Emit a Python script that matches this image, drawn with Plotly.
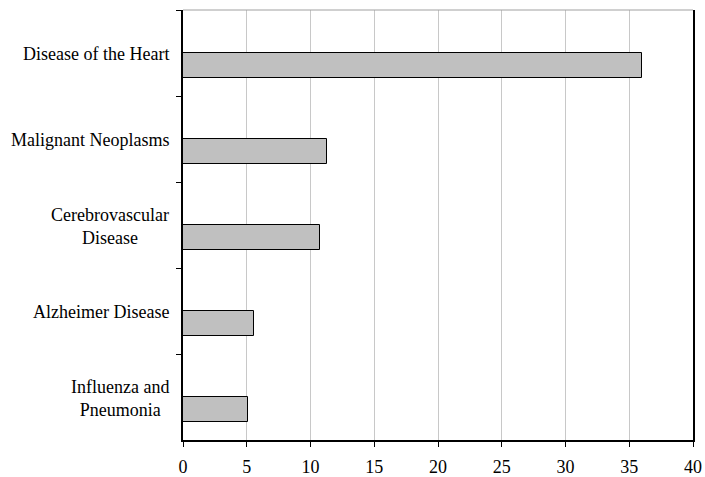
import plotly.graph_objects as go

categories = ["Disease of the Heart", "Malignant Neoplasms", "Cerebrovascular<br>Disease",
              "Alzheimer Disease", "Influenza and<br>Pneumonia"]
values = [36.0, 11.3, 10.75, 5.6, 5.1]
x_ticks = [0, 5, 10, 15, 20, 25, 30, 35, 40]

FONT = "Liberation Serif, Times New Roman, serif"
FS = 18

fig = go.Figure()
fig.add_trace(go.Bar(
    y=categories, x=values, orientation="h",
    width=0.29, offset=0,
    marker=dict(color="#c0c0c0", line=dict(color="black", width=1)),
    showlegend=False,
))

for c in categories:
    fig.add_annotation(
        x=0, xref="paper", y=c, yref="y",
        text=c, showarrow=False, xanchor="right", align="center",
        xshift=-12, yshift=-1, font=dict(family=FONT, size=FS, color="black"),
    )

fig.add_shape(type="line", xref="paper", yref="paper", x0=0, x1=1, y0=1, y1=1,
              line=dict(color="#a0a0a0", width=1))

fig.update_layout(
    width=705, height=477,
    margin=dict(l=183, r=12, t=10, b=37),
    paper_bgcolor="white", plot_bgcolor="white",
    font=dict(family=FONT, size=FS, color="black"),
    bargap=0,
    xaxis=dict(
        range=[0, 40], tickvals=x_ticks, showgrid=True, gridcolor="#c8c8c8", gridwidth=1,
        showline=True, linecolor="black", linewidth=1.5,
        ticks="outside", ticklen=5, tickcolor="black", zeroline=False,
        tickfont=dict(family=FONT, size=FS), automargin=False, ticklabelstandoff=5,
    ),
    yaxis=dict(
        type="category", categoryorder="array", categoryarray=categories,
        autorange="reversed",
        tickson="boundaries", ticks="outside", ticklen=5, tickcolor="black",
        showticklabels=False, showgrid=False, automargin=False,
        showline=True, linecolor="black", linewidth=1.5, mirror=True,
    ),
)

fig.write_html("out.html", config={"displayModeBar": False},
               post_script="document.body.style.margin='0';document.body.style.padding='0';")
